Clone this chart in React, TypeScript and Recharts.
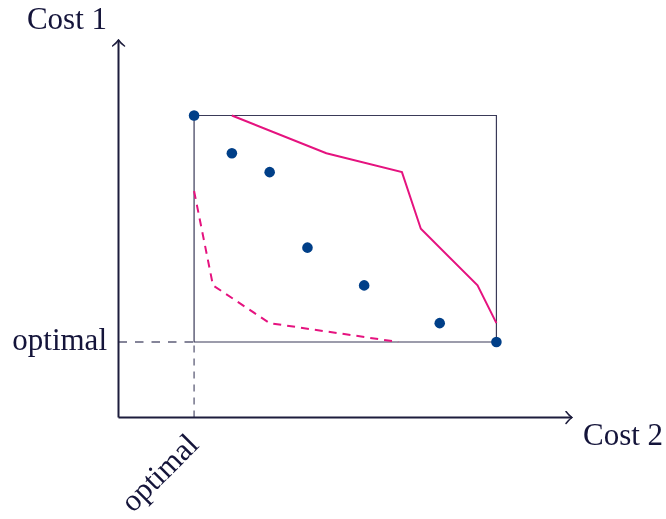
import React from 'react';
import { ScatterChart, Scatter, XAxis, YAxis, ReferenceArea, ReferenceLine } from 'recharts';

// Axis extents and labels
const xAxisMax = 12;
const yAxisMax = 10;
const xAxisTitle = 'Cost 2';
const yAxisTitle = 'Cost 1';
const xTicks = [2];
const yTicks = [2];
const tickLabel = 'optimal';

// Ideal (optimal) and nadir corners of the box
const idealX = 2;
const idealY = 2;
const nadirX = 10;
const nadirY = 8;

// Solutions (dots)
const solutionX = [2, 3, 4, 5, 6.5, 8.5, 10];
const solutionY = [8, 7, 6.5, 4.5, 3.5, 2.5, 2];

// Upper (solid) front
const upperX = [3, 5.5, 7.5, 8, 9.5, 10];
const upperY = [8, 7, 6.5, 5, 3.5, 2.5];

// Lower (dashed) front
const lowerX = [2, 2.5, 4, 7.4];
const lowerY = [6, 3.5, 2.5, 2];

const zip = (xs: number[], ys: number[]) => xs.map((x, i) => ({ x, y: ys[i] }));
const solutions = zip(solutionX, solutionY);
const upper = zip(upperX, upperY);
const lower = zip(lowerX, lowerY);

const INK = '#14143a';
const AXIS = '#1c1c3c';
const DOT = '#003f88';
const MAGENTA = '#e5137f';
const GUIDE = '#5e5e78';
const FONT = '"Liberation Serif", "Times New Roman", serif';
const FS = 31;

const XTick = (props: any) => {
  const { x, y } = props;
  const ax = x + 6;
  const ay = y + 29;
  return (
    <text
      x={ax}
      y={ay}
      textAnchor="end"
      transform={`rotate(-45 ${ax} ${ay})`}
      fontFamily={FONT}
      fontSize={FS}
      fill={INK}
    >
      {tickLabel}
    </text>
  );
};

const YTick = (props: any) => {
  const { x, y } = props;
  return (
    <text x={x - 11.5} y={y + 8} textAnchor="end" fontFamily={FONT} fontSize={FS} fill={INK}>
      {tickLabel}
    </text>
  );
};

const YTitle = (props: any) => {
  const { viewBox } = props;
  const vx = viewBox.x + viewBox.width;
  return (
    <text x={vx - 11.5} y={viewBox.y - 11} textAnchor="end" fontFamily={FONT} fontSize={FS} fill={INK}>
      {yAxisTitle}
    </text>
  );
};

const XTitle = (props: any) => {
  const { viewBox } = props;
  return (
    <text x={viewBox.x + viewBox.width + 11} y={viewBox.y + 27.5} textAnchor="start" fontFamily={FONT} fontSize={FS} fill={INK}>
      {xAxisTitle}
    </text>
  );
};

const NoShape = () => null;

export default function App() {
  return (
    <div style={{ position: 'fixed', left: 0, top: 0, width: 666, height: 519, overflow: 'hidden' }}>
      <svg width={0} height={0} style={{ position: 'absolute' }}>
        <defs>
          <marker
            id="arrowHead"
            viewBox="0 0 12 14"
            refX={11}
            refY={7}
            markerWidth={12}
            markerHeight={14}
            markerUnits="userSpaceOnUse"
            orient="auto-start-reverse"
          >
            <path d="M5,1 Q8,5 11,7 Q8,9 5,13" fill="none" stroke={AXIS} strokeWidth={1.5} strokeLinecap="round" />
          </marker>
        </defs>
      </svg>
      <ScatterChart width={666} height={519} margin={{ left: 117.5, top: 40, right: 94, bottom: 100.5 }}>
        <XAxis
          type="number"
          dataKey="x"
          domain={[0, xAxisMax]}
          ticks={xTicks}
          tick={<XTick />}
          tickLine={false}
          tickSize={0}
          tickMargin={0}
          height={1}
          allowDataOverflow
          axisLine={{ stroke: AXIS, strokeWidth: 2, markerEnd: 'url(#arrowHead)' }}
          label={<XTitle />}
        />
        <YAxis
          type="number"
          dataKey="y"
          domain={[0, yAxisMax]}
          ticks={yTicks}
          tick={<YTick />}
          tickLine={false}
          tickSize={0}
          tickMargin={0}
          width={1}
          allowDataOverflow
          axisLine={{ stroke: AXIS, strokeWidth: 2, markerStart: 'url(#arrowHead)' }}
          label={<YTitle />}
        />
        <ReferenceLine
          segment={[{ x: 0, y: idealY }, { x: idealX, y: idealY }]}
          stroke={GUIDE}
          strokeWidth={1.3}
          strokeDasharray="8.5 8"
        />
        <ReferenceLine
          segment={[{ x: idealX, y: 0 }, { x: idealX, y: idealY }]}
          stroke={GUIDE}
          strokeWidth={1.3}
          strokeDasharray="7 6"
        />
        <ReferenceArea
          x1={idealX}
          x2={nadirX}
          y1={idealY}
          y2={nadirY}
          fill="none"
          fillOpacity={0}
          stroke="#3a3a58"
          strokeWidth={1.2}
        />
        <Scatter
          data={upper}
          shape={NoShape}
          line={{ stroke: MAGENTA, strokeWidth: 2 }}
          isAnimationActive={false}
        />
        <Scatter
          data={lower}
          shape={NoShape}
          line={{ stroke: MAGENTA, strokeWidth: 2, strokeDasharray: '8 6' }}
          isAnimationActive={false}
        />
        <Scatter
          data={solutions}
          fill={DOT}
          shape={(p: any) => <circle cx={p.cx} cy={p.cy} r={5.3} fill={DOT} />}
          isAnimationActive={false}
        />
      </ScatterChart>
    </div>
  );
}
